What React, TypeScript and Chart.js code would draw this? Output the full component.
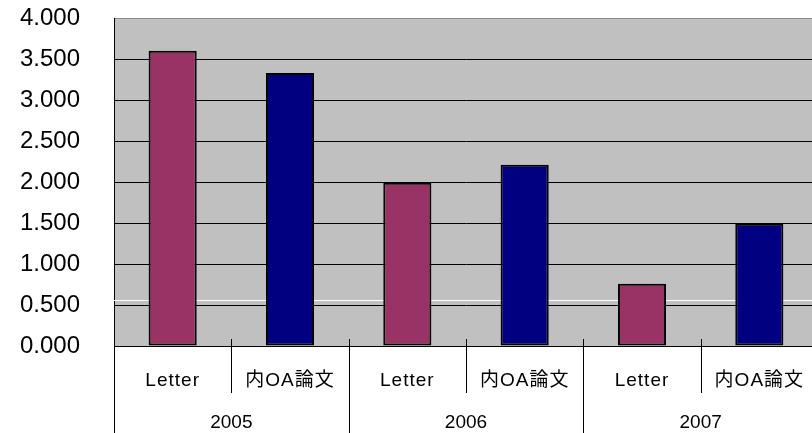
import React, { useEffect, useRef } from "react";
import { Chart, registerables } from "chart.js";

Chart.register(...registerables);

const years = ["2005", "2006", "2007"];
const subCategories = ["Letter", "内OA論文"];
const letterValues = [3.6, 1.99, 0.76];
const oaValues = [3.33, 2.21, 1.49];
const whiteLineValue = 0.56;
const yMin = 0;
const yMax = 4;
const yStep = 0.5;

const LETTER_COLOR = "#993366";
const OA_COLOR = "#000080";
const FONT = '"Liberation Sans", "Noto Sans CJK JP", sans-serif';

const labels = years.flatMap((y) => subCategories.map((s) => `${y} ${s}`));
const values = years.flatMap((_, i) => [letterValues[i], oaValues[i]]);
const colors = years.flatMap(() => [LETTER_COLOR, OA_COLOR]);

const chartPlugin = {
  id: "excelLook",
  beforeDraw(chart: any) {
    const { ctx, chartArea } = chart;
    const { left, top, right, bottom } = chartArea;
    ctx.save();
    ctx.fillStyle = "#C0C0C0";
    ctx.fillRect(left, top, right - left, bottom - top);
    ctx.restore();
  },
  beforeDatasetsDraw(chart: any) {
    const { ctx, chartArea, scales } = chart;
    const y = Math.round(scales.y.getPixelForValue(whiteLineValue)) + 0.5;
    ctx.save();
    ctx.strokeStyle = "#FFFFFF";
    ctx.lineWidth = 1;
    ctx.beginPath();
    ctx.moveTo(chartArea.left, y);
    ctx.lineTo(chartArea.right, y);
    ctx.stroke();
    ctx.restore();
  },
  afterDraw(chart: any) {
    const { ctx, chartArea, scales, height } = chart;
    const xs = scales.x;
    const bottom = chartArea.bottom;
    const n = labels.length;
    const pos = (i: number) => xs.getPixelForValue(i);
    const half = n > 1 ? (pos(1) - pos(0)) / 2 : 50;
    ctx.save();
    ctx.strokeStyle = "#000000";
    ctx.lineWidth = 1;
    for (let i = 0; i <= n; i++) {
      const bx = Math.round(i === 0 ? chartArea.left : pos(i - 1) + half) + 0.5;
      const isGroup = i % subCategories.length === 0;
      const y0 = i === 0 ? bottom : bottom - 7;
      const y1 = isGroup ? height : bottom + 47;
      ctx.beginPath();
      ctx.moveTo(bx, y0);
      ctx.lineTo(bx, y1);
      ctx.stroke();
    }
    ctx.fillStyle = "#000000";
    ctx.textAlign = "center";
    ctx.textBaseline = "middle";
    ctx.font = `19px ${FONT}`;
    (ctx as any).letterSpacing = "1px";
    for (let i = 0; i < n; i++) {
      ctx.fillText(subCategories[i % subCategories.length], pos(i), bottom + 35);
    }
    (ctx as any).letterSpacing = "0px";
    for (let g = 0; g < years.length; g++) {
      const a = pos(g * subCategories.length);
      const b = pos(g * subCategories.length + subCategories.length - 1);
      ctx.fillText(years[g], (a + b) / 2, bottom + 77);
    }
    ctx.restore();
  },
};

export default function App() {
  const canvasRef = useRef<HTMLCanvasElement | null>(null);

  useEffect(() => {
    if (!canvasRef.current) return;
    const chart = new Chart(canvasRef.current, {
      type: "bar",
      data: {
        labels,
        datasets: [
          {
            data: values,
            backgroundColor: colors,
            borderColor: "#000000",
            borderWidth: 2,
            borderSkipped: false,
            barPercentage: 0.41,
            categoryPercentage: 1,
          },
        ],
      },
      options: {
        responsive: false,
        animation: false,
        devicePixelRatio: 1,
        layout: { padding: { left: 0, top: 18, right: 12, bottom: 87 } },
        plugins: {
          legend: { display: false },
          tooltip: { enabled: false },
        },
        scales: {
          x: {
            display: false,
            offset: true,
          },
          y: {
            min: yMin,
            max: yMax,
            afterFit(scale: any) {
              scale.width = 114;
              scale.paddingTop = 0;
              scale.paddingBottom = 0;
            },
            ticks: {
              stepSize: yStep,
              padding: 34,
              color: "#000000",
              font: { family: FONT, size: 24 },
              callback: (v: any) => Number(v).toFixed(3),
            },
            grid: {
              drawTicks: false,
              color: (c: any) => (c.tick && c.tick.value === yMax ? "#8C8C8C" : "#000000"),
              lineWidth: 1,
            },
            border: { display: true, color: "#000000", width: 1 },
          },
        },
      },
      plugins: [chartPlugin],
    });
    return () => chart.destroy();
  }, []);

  return (
    <div
      style={{
        position: "fixed",
        left: 0,
        top: 0,
        width: 812,
        height: 433,
        overflow: "hidden",
        background: "#FFFFFF",
      }}
    >
      <canvas ref={canvasRef} width={830} height={433} style={{ display: "block" }} />
    </div>
  );
}
